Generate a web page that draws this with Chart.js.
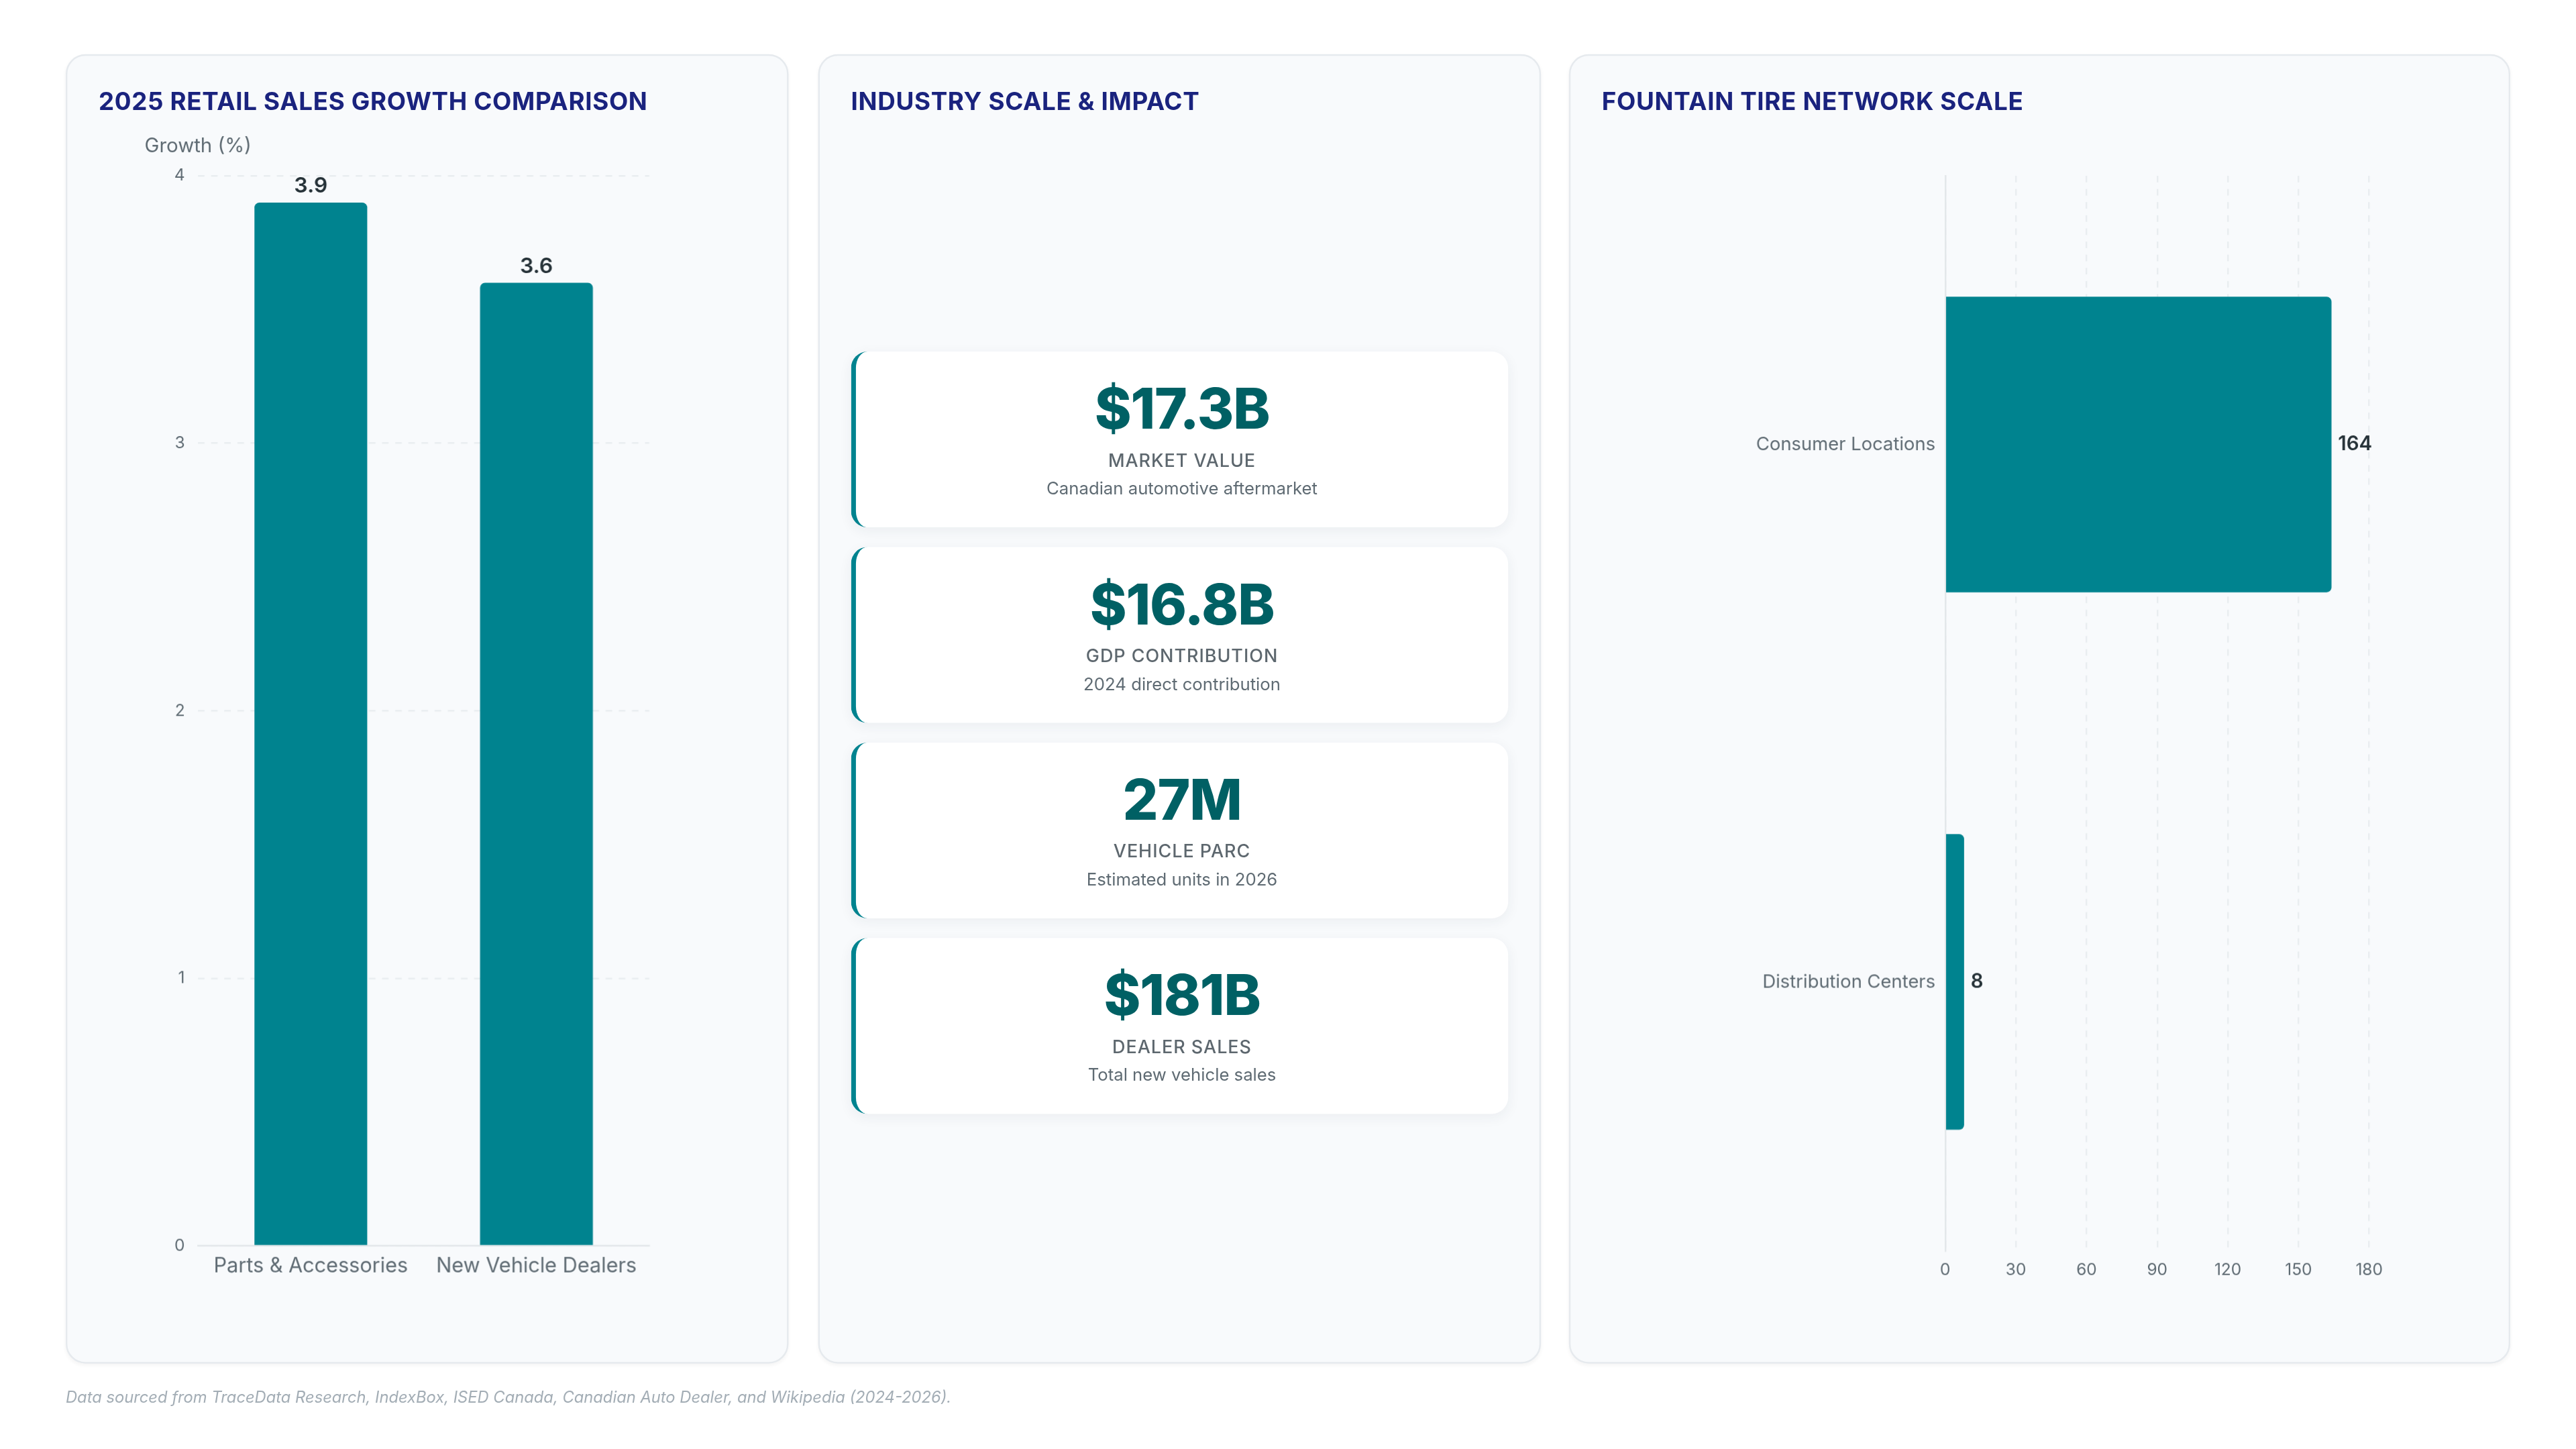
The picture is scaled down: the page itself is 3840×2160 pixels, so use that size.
<!DOCTYPE html>
<html>
<head>
<meta charset="utf-8">
<script src="https://cdn.jsdelivr.net/npm/chart.js@4.4.1/dist/chart.umd.min.js"></script>
<style>
  html, body { margin: 0; padding: 0; background: #ffffff; overflow: hidden; }
  body { width: 3840px; height: 2160px; font-family: Inter, "Noto Sans", sans-serif; }
  #stage { position: relative; width: 1568px; height: 882px; transform: scale(2.44898); transform-origin: 0 0; }
  .card { position: absolute; top: 33px; height: 797px; background: #f8fafc; border: 1px solid #e6eaee; border-radius: 12px; box-shadow: 0 1px 2px rgba(0,0,0,0.04); box-sizing: border-box; }
  .card h2 { position: absolute; left: 19px; top: 18px; margin: 0; font-size: 15px; line-height: 20px; font-weight: 700; letter-spacing: 0.27px; color: #1a237e; white-space: nowrap; }
  .chart-box { position: absolute; left: 19px; top: 46px; height: 730px; }
  #c1 { left: 40px; width: 440px; }
  #c2 { left: 498px; width: 440px; }
  #c3 { left: 955px; width: 573px; }
  .stack { position: absolute; left: 19px; right: 19px; top: 47px; height: 730px; display: flex; flex-direction: column; justify-content: center; gap: 12px; }
  .stat { height: 107px; box-sizing: border-box; background: #ffffff; border-left: 3px solid #00838f; border-radius: 10px; box-shadow: 0 2px 8px rgba(30,50,70,0.06); text-align: center; padding-top: 14.5px; }
  .stat .v { font-size: 34px; line-height: 40px; font-weight: 800; color: #006064; letter-spacing: -0.5px; }
  .stat .l { margin-top: 4px; font-size: 11px; line-height: 14px; font-weight: 500; letter-spacing: 0.4px; color: #5d676e; }
  .stat .n { margin-top: 4.5px; font-size: 10.5px; line-height: 14px; color: #5f6b73; }
  #foot { position: absolute; left: 40px; top: 844px; font-size: 9.7px; line-height: 14px; font-style: italic; color: #a3adb5; white-space: nowrap; }
</style>
</head>
<body>
<div id="stage">
  <div class="card" id="c1">
    <h2>2025 RETAIL SALES GROWTH COMPARISON</h2>
    <div class="chart-box" style="width:400px"><canvas id="growthChart"></canvas></div>
  </div>
  <div class="card" id="c2">
    <h2>INDUSTRY SCALE &amp; IMPACT</h2>
    <div class="stack" id="stats"></div>
  </div>
  <div class="card" id="c3">
    <h2>FOUNTAIN TIRE NETWORK SCALE</h2>
    <div class="chart-box" style="width:533px"><canvas id="networkChart"></canvas></div>
  </div>
  <div id="foot">Data sourced from TraceData Research, IndexBox, ISED Canada, Canadian Auto Dealer, and Wikipedia (2024-2026).</div>
</div>
<script>
// Chart data
const growthCategories = ["Parts & Accessories", "New Vehicle Dealers"];
const growthValues = [3.9, 3.6];
const growthAxisTitle = "Growth (%)";

const networkCategories = ["Consumer Locations", "Distribution Centers"];
const networkValues = [164, 8];

const statValues = ["$17.3B", "$16.8B", "27M", "$181B"];
const statLabels = ["MARKET VALUE", "GDP CONTRIBUTION", "VEHICLE PARC", "DEALER SALES"];
const statNotes = ["Canadian automotive aftermarket", "2024 direct contribution", "Estimated units in 2026", "Total new vehicle sales"];

// Stat cards
document.getElementById("stats").innerHTML = statValues.map((v, i) => `
  <div class="stat">
    <div class="v">${v}</div>
    <div class="l">${statLabels[i]}</div>
    <div class="n">${statNotes[i]}</div>
  </div>
`).join("");

const SCALE = 3840 / 1568;
const TEAL = "#00838f";
const TICK = "#5f6b73";
const GRID = "#e9edf0";
Chart.defaults.font.family = "Inter, 'Noto Sans', sans-serif";
Chart.defaults.animation = false;

// value labels at the end of each bar
const barLabels = {
    id: "barLabels",
    afterDatasetsDraw(chart, args, opts) {
        const ctx = chart.ctx;
        const meta = chart.getDatasetMeta(0);
        const data = chart.data.datasets[0].data;
        ctx.save();
        ctx.fillStyle = "#263238";
        ctx.font = `600 ${opts.size}px Inter, sans-serif`;
        meta.data.forEach((bar, i) => {
            if (chart.options.indexAxis === "y") {
                ctx.textAlign = "left";
                ctx.textBaseline = "middle";
                ctx.fillText(data[i], bar.x + 4, bar.y);
            } else {
                ctx.textAlign = "center";
                ctx.textBaseline = "bottom";
                ctx.fillText(data[i], bar.x, bar.y - 3.5);
            }
        });
        ctx.restore();
    }
};

// horizontal axis caption above the y axis
const topAxisTitle = {
    id: "topAxisTitle",
    afterDraw(chart, args, opts) {
        if (!opts.text) return;
        const ctx = chart.ctx;
        ctx.save();
        ctx.fillStyle = TICK;
        ctx.font = "12px Inter, sans-serif";
        ctx.textAlign = "left";
        ctx.textBaseline = "middle";
        ctx.fillText(opts.text, chart.chartArea.left - 32.5, 9);
        ctx.restore();
    }
};

new Chart(document.getElementById("growthChart"), {
    type: "bar",
    data: {
        labels: growthCategories,
        datasets: [{ data: growthValues, backgroundColor: TEAL, borderRadius: 3, categoryPercentage: 1, barPercentage: 0.5 }]
    },
    options: {
        responsive: true,
        maintainAspectRatio: false,
        devicePixelRatio: SCALE * (window.devicePixelRatio || 1),
        layout: { padding: { top: 27, right: 65, left: 0, bottom: 0 } },
        plugins: { legend: { display: false }, tooltip: { enabled: false }, barLabels: { size: 13 }, topAxisTitle: { text: growthAxisTitle } },
        scales: {
            x: {
                grid: { display: false, drawTicks: false },
                border: { display: true, color: "#e3e7ea", width: 1 },
                ticks: { color: TICK, font: { size: 12.5 }, padding: 5 },
                afterFit(s) { s.height = 52; }
            },
            y: {
                min: 0, max: 4,
                grid: { color: GRID, drawTicks: false },
                border: { display: false, dash: [4, 4] },
                ticks: { stepSize: 1, color: TICK, font: { size: 10 }, padding: 8 },
                afterFit(s) { s.width = 60.5; }
            }
        }
    },
    plugins: [barLabels, topAxisTitle]
});

new Chart(document.getElementById("networkChart"), {
    type: "bar",
    data: {
        labels: networkCategories,
        datasets: [{ data: networkValues, backgroundColor: TEAL, borderRadius: 3, categoryPercentage: 1, barPercentage: 0.55 }]
    },
    options: {
        indexAxis: "y",
        responsive: true,
        maintainAspectRatio: false,
        devicePixelRatio: SCALE * (window.devicePixelRatio || 1),
        layout: { padding: { top: 27, right: 66, left: 0, bottom: 0 } },
        plugins: { legend: { display: false }, tooltip: { enabled: false }, barLabels: { size: 12 } },
        scales: {
            x: {
                min: 0, max: 180,
                grid: { color: GRID, drawTicks: false },
                border: { display: false, dash: [4, 4] },
                ticks: { stepSize: 30, color: TICK, font: { size: 10 }, padding: 6 },
                afterFit(s) { s.height = 49; }
            },
            y: {
                grid: { display: false, drawTicks: false },
                border: { display: true, color: "#e3e7ea", width: 1 },
                ticks: { color: TICK, font: { size: 11.2 }, padding: 6 },
                afterFit(s) { s.width = 209; }
            }
        }
    },
    plugins: [barLabels]
});
</script>
</body>
</html>
